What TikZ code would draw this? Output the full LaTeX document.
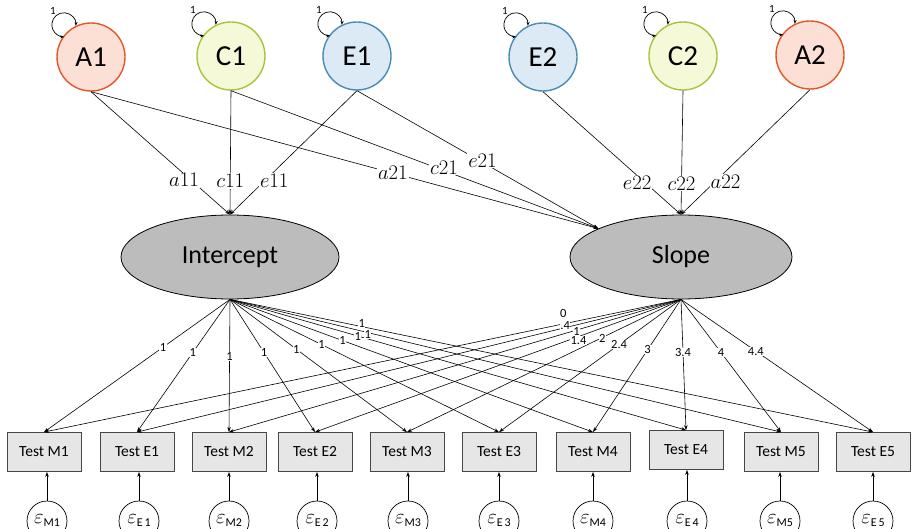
\documentclass[tikz,border=0pt]{standalone}
\usepackage{fontspec}
\setmainfont{Carlito}
\usetikzlibrary{arrows.meta,shapes.geometric}
\definecolor{aFill}{RGB}{252,224,214}
\definecolor{aLine}{RGB}{226,88,44}
\definecolor{cFill}{RGB}{245,249,215}
\definecolor{cLine}{RGB}{169,196,60}
\definecolor{eFill}{RGB}{220,234,245}
\definecolor{eLine}{RGB}{75,139,182}
\definecolor{ellgray}{RGB}{188,188,188}
\definecolor{boxgray}{RGB}{230,230,230}
\definecolor{boxline}{RGB}{70,70,70}
\begin{document}
\begin{tikzpicture}[x=1pt,y=1pt,
  lat/.style={circle, minimum size=68pt, inner sep=0pt, line width=1.4pt, font=\fontsize{29}{29}\selectfont},
  growth/.style={ellipse, minimum width=218pt, minimum height=84pt, inner sep=0pt, fill=ellgray, draw=black, line width=0.8pt, font=\fontsize{26}{26}\selectfont},
  obs/.style={rectangle, minimum width=74pt, minimum height=39pt, inner sep=0pt, fill=boxgray, draw=boxline, line width=0.8pt, font=\fontsize{15.5}{15.5}\selectfont},
  err/.style={circle, minimum size=40pt, inner sep=0pt, draw, line width=0.7pt},
  arr/.style={-{Stealth[length=5pt,width=3.5pt]}, line width=0.6pt},
  pl/.style={fill=white, inner sep=1pt, font=\fontsize{20}{20}\selectfont},
  ll/.style={fill=white, inner sep=0.4pt, font=\fontsize{12.5}{12.5}\selectfont},
  selfloop/.style={{Stealth[length=4pt,width=3pt]}-{Stealth[length=4pt,width=3pt]}, line width=0.7pt},
  onelab/.style={font=\fontsize{11}{11}\selectfont\rmfamily, inner sep=0pt},
]
\clip (0,0) rectangle (915,-529);
\fill[white] (0,0) rectangle (915,-529);

% latent ACE factors
\node[lat, fill=aFill, draw=aLine] (A1) at (91,-57) {A1};
\node[lat, fill=cFill, draw=cLine] (C1) at (231,-56) {C1};
\node[lat, fill=eFill, draw=eLine] (E1) at (357,-56) {E1};
\node[lat, fill=eFill, draw=eLine] (E2) at (543,-57) {E2};
\node[lat, fill=cFill, draw=cLine] (C2) at (683,-56) {C2};
\node[lat, fill=aFill, draw=aLine] (A2) at (810,-55) {A2};

% self loops (variance fixed to 1)
\foreach \n in {A1,C1,E1,E2,C2,A2}{
  \draw[selfloop] (\n.116) arc[start angle=-5, end angle=272, radius=12];
  \node[onelab, xshift=-38pt, yshift=46pt] (\n-one) at (\n.center) {1};
}

% growth factors
\node[growth] (Int) at (230,-257) {Intercept};
\node[growth, minimum width=222pt] (Slope) at (681,-257) {Slope};

% observed tests
\node[obs] (tM1) at (44,-452) {Test M1};
\node[obs] (tE1) at (137,-452) {Test E1};
\node[obs] (tM2) at (229,-452) {Test M2};
\node[obs] (tE2) at (315,-452) {Test E2};
\node[obs] (tM3) at (407,-452) {Test M3};
\node[obs] (tE3) at (499,-452) {Test E3};
\node[obs] (tM4) at (593,-452) {Test M4};
\node[obs] (tE4) at (686,-450) {Test E4};
\node[obs] (tM5) at (781,-452) {Test M5};
\node[obs] (tE5) at (873,-452) {Test E5};

% residuals
\foreach \n/\x/\s in {M1/47/M1, E1/139/E\,1, M2/229/M2, E2/317/E\,2, M3/408/M3, E3/499/E\,3, M4/593/M4, E4/687/E\,4, M5/780/M5, E5/873/E\,5}{
  \node[err] (e\n) at (\x,-521) {{\fontsize{21}{21}\selectfont$\varepsilon$}{\fontsize{12}{12}\selectfont\raisebox{-3pt}{\s}}};
  \draw[arr] (e\n.north) -- (e\n.north |- t\n.south);
}

% ACE paths to Intercept
\draw[arr] (A1.south) -- node[pl, pos=.72, xshift=-7pt] {$a11$} (Int.north);
\draw[arr] (C1.south) -- node[pl, pos=.73] {$c11$} (Int.north);
\draw[arr] (E1.south) -- node[pl, pos=.73, xshift=10pt] {$e11$} (Int.north);
% ACE paths to Slope
\draw[arr] (A1.south) -- node[pl, pos=.595] {$a21$} (Slope.161);
\draw[arr] (C1.south) -- node[pl, pos=.58, yshift=3pt] {$c21$} (Slope.161);
\draw[arr] (E1.south) -- node[pl, pos=.52, yshift=2pt] {$e21$} (Slope.161);
\draw[arr] (E2.south) -- node[pl, pos=.74, xshift=-8pt] {$e22$} (Slope.north);
\draw[arr] (C2.south) -- node[pl, pos=.75] {$c22$} (Slope.north);
\draw[arr] (A2.south) -- node[pl, pos=.74, xshift=11pt] {$a22$} (Slope.north);

% loadings
\foreach \b in {tM1,tE1,tM2,tE2,tM3,tE3,tM4,tE4,tM5,tE5}{
  \draw[arr] (Int.south) -- (\b.north);
  \draw[arr] (Slope.south) -- (\b.north);
}
\foreach \b/\p/\ys in {tM1/.36/0, tE1/.40/0, tM2/.43/0, tE2/.40/0, tM3/.375/0, tE3/.34/0, tM4/.31/0, tE4/.28/0, tM5/.25/-2, tE5/.205/3}{
  \path (Int.south) -- node[ll, pos=\p, yshift=\ys pt] {1} (\b.north);
}
\foreach \b/\p/\l/\xs/\ys in {tM1/.18/0/-3/10, tE1/.20/.4/-7/0, tM2/.24/1/4/0, tE2/.28/1.4/0/-4, tM3/.295/2/2/0, tE3/.34/2.4/0/0, tM4/.38/3/0/0, tE4/.41/3.4/0/0, tM5/.40/4/0/0, tE5/.39/4.4/0/0}{
  \path (Slope.south) -- node[ll, pos=\p, xshift=\xs pt, yshift=\ys pt] {\l} (\b.north);
}
\end{tikzpicture}
\end{document}
